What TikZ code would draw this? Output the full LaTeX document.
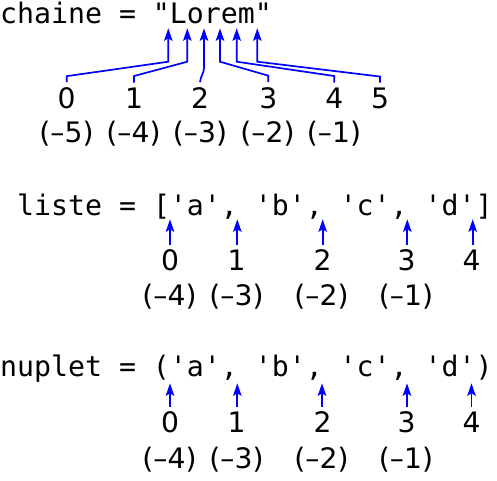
\documentclass[tikz,border=0pt]{standalone}
\usepackage{fontspec}
\setmainfont{DejaVu Sans}
\setmonofont{DejaVu Sans Mono}
\usetikzlibrary{arrows.meta}
\begin{document}
\begin{tikzpicture}[x=1pt,y=-1pt,
  code/.style={anchor=base west,inner sep=0pt,font=\ttfamily\fontsize{28.2}{33.8}\selectfont},
  idx/.style={anchor=base,inner xsep=0pt,inner ysep=5pt,font=\fontsize{28.2}{33.8}\selectfont},
  neg/.style={anchor=base,inner sep=0pt,font=\fontsize{28.2}{33.8}\selectfont},
  arr/.style={draw={rgb,255:red,0;green,0;blue,255},line width=1.7pt,
    -{Stealth[length=12.5pt,width=8.5pt,inset=2.5pt]}}]
\useasboundingbox (0,0) rectangle (497,480);

% ---- chaine ----
\node[code] (chaine) at (0,23.3) {chaine = "Lorem"};
\foreach \n/\x in {0/66.7,1/134,2/200,3/268.3,4/334.3,5/380}
  \node[idx] (c\n) at (\x,108.3) {\n};
\foreach \n/\x in {5/66.5,4/133.5,3/200,2/267.5,1/334}
  \node[neg] (cn\n) at (\x,142) {(–\n)};
\foreach \n/\x in {0/168.3,1/187.3,2/204,3/220,4/236.7,5/257.3}{
  \coordinate (ct\n) at (\x,28.3);
  \coordinate (cb\n) at (\x,61.7);
}
\coordinate (cb2) at (204,68);
\draw[arr] (c0.north) -- ++(0,-6) -- (cb0) -- (ct0);
\draw[arr] (c1.north) -- ++(0,-6.5) -- (cb1) -- (ct1);
\draw[arr] (c2.north) .. controls (200.6,76) and (204,73) .. (cb2) -- (ct2);
\draw[arr] (c3.north) -- ++(0,-6.5) -- (cb3) -- (ct3);
\draw[arr] (c4.north) -- ++(0,-6.5) -- (cb4) -- (ct4);
\draw[arr] (c5.north) -- ++(0,-6) -- (cb5) -- (ct5);

% ---- liste ----
\node[code] (liste) at (17,215) {liste = ['a', 'b', 'c', 'd']};
\foreach \n/\x in {0/170,1/236.7,2/322.7,3/406.7,4/471.7}
  \node[idx] (l\n) at (\x,270.7) {\n};
\foreach \n/\x in {4/169.5,3/236.5,2/321.5,1/406}
  \node[neg] (ln\n) at (\x,305) {(–\n)};
\foreach \n/\x in {0/170,1/237.3,2/322.7,3/407.3,4/472.7}{
  \coordinate (lt\n) at (\x,219.3);
  \draw[arr] (lt\n |- l\n.north) -- (lt\n);
}

% ---- nuplet ----
\node[code] (nuplet) at (0,376.7) {nuplet = ('a', 'b', 'c', 'd')};
\foreach \n/\x in {0/170,1/236.7,2/322.7,3/406.7,4/471.7}
  \node[idx] (t\n) at (\x,432.7) {\n};
\foreach \n/\x in {4/169.5,3/236.5,2/321.5,1/406}
  \node[neg] (tn\n) at (\x,468) {(–\n)};
\foreach \n/\x in {0/170,1/237.3,2/322,3/407,4/471.5}{
  \coordinate (tt\n) at (\x,383.3);
  \draw[arr] (tt\n |- t\n.north) -- (tt\n);
}
\end{tikzpicture}
\end{document}
